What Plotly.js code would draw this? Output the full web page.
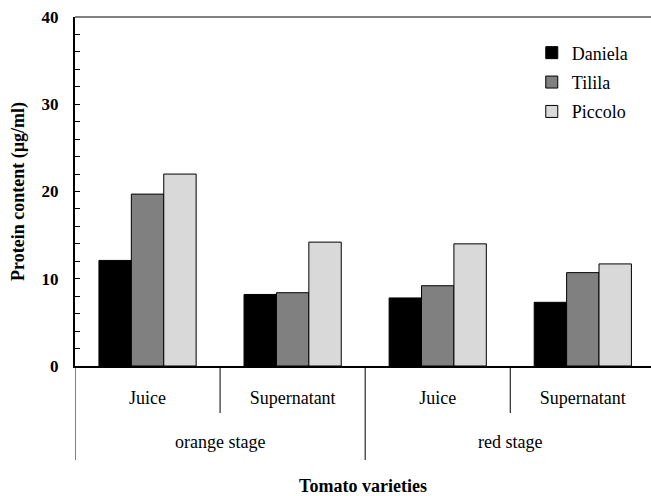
<!DOCTYPE html>
<html>
<head>
<meta charset="utf-8">
<script src="https://cdn.plot.ly/plotly-3.0.1.min.js"></script>
<style>html,body{margin:0;padding:0;background:#fff;}#chart{width:651px;height:496px;}</style>
</head>
<body>
<div id="chart"></div>
<script>
// ---- data ----
var stages = ['orange stage', 'red stage'];
var fractions = ['Juice', 'Supernatant'];
var varieties = ['Daniela', 'Tilila', 'Piccolo'];
var daniela = [12.1, 8.2, 7.8, 7.3];
var tilila = [19.7, 8.4, 9.2, 10.7];
var piccolo = [22.0, 14.2, 14.0, 11.7];
var yTickLabels = ['0', '10', '20', '30', '40'];
var xTitle = 'Tomato varieties';
var yTitle = 'Protein content (µg/ml)';

// ---- build ----
var innerLabels = [];
var positions = [];
stages.forEach(function (s, si) {
  fractions.forEach(function (f, fi) {
    innerLabels.push(f);
    positions.push(si * fractions.length + fi);
  });
});
var colors = ['#000000', '#808080', '#d9d9d9'];
var seriesValues = [daniela, tilila, piccolo];
var serif = 'Times New Roman, Liberation Serif, DejaVu Serif, serif';

var traces = varieties.map(function (name, i) {
  return {
    type: 'bar',
    name: name,
    legendgroup: 'g' + i,
    x: positions,
    y: seriesValues[i],
    marker: {color: colors[i], line: {color: '#000', width: 1}},
    hoverinfo: 'y+name'
  };
});

var plotH = 496 - 17 - 130;
var shapes = [];
var nInner = fractions.length;
for (var b = 0; b <= positions.length; b++) {
  var outer = (b % nInner === 0);
  shapes.push({
    type: 'line', xref: 'x', yref: 'paper',
    x0: b - 0.5, x1: b - 0.5, y0: 0, y1: outer ? -94 / plotH : -47 / plotH,
    line: {color: '#000', width: 1}
  });
}
shapes.push({type: 'line', xref: 'paper', yref: 'paper', x0: 0, x1: 1, y0: 1, y1: 1,
  line: {color: '#000', width: 1}});

var annotations = stages.map(function (s, si) {
  return {
    text: s, xref: 'x', yref: 'paper',
    x: si * nInner + (nInner - 1) / 2, y: -76 / plotH,
    xanchor: 'center', yanchor: 'middle', showarrow: false,
    font: {family: serif, size: 18, color: '#000'}
  };
});

var layout = {
  width: 651, height: 496,
  margin: {l: 75, r: 0, t: 17, b: 130},
  paper_bgcolor: '#fff', plot_bgcolor: '#fff',
  barmode: 'group', bargap: 0.33, bargroupgap: 0,
  font: {family: serif, color: '#000'},
  showlegend: true,
  legend: {x: 0.793, y: 0.95, xanchor: 'left', yanchor: 'top', tracegroupgap: 3,
    font: {family: serif, size: 18, color: '#000'}, bgcolor: 'rgba(0,0,0,0)'},
  xaxis: {
    range: [-0.5, 3.47], tickmode: 'array', tickvals: positions, ticktext: innerLabels,
    ticks: '', showline: true, linecolor: '#000', linewidth: 2,
    showgrid: false, zeroline: false, ticklabelstandoff: 14,
    tickfont: {family: serif, size: 18, color: '#000'},
    title: {text: xTitle, standoff: 73, font: {family: serif, size: 18, weight: 700, color: '#000'}}
  },
  yaxis: {
    range: [0, 40], tickmode: 'array', tickvals: [0, 10, 20, 30, 40], ticktext: yTickLabels,
    ticks: 'inside', ticklen: 5, tickwidth: 1, tickcolor: '#000',
    minor: {dtick: 2, ticks: 'inside', ticklen: 5, tickwidth: 1, tickcolor: '#000'},
    showline: true, linecolor: '#000', linewidth: 2,
    showgrid: false, zeroline: false, ticklabelstandoff: 11,
    tickfont: {family: serif, size: 17, weight: 700, color: '#000'},
    title: {text: yTitle, standoff: 12, font: {family: serif, size: 18, weight: 700, color: '#000'}}
  },
  shapes: shapes,
  annotations: annotations
};

Plotly.newPlot('chart', traces, layout, {displayModeBar: false, staticPlot: true});
</script>
</body>
</html>
